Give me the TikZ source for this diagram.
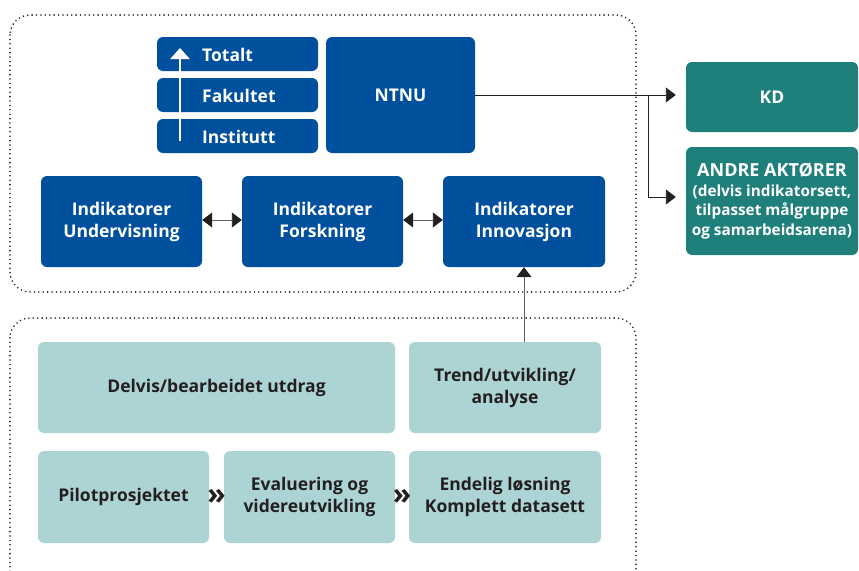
\documentclass[tikz,border=0pt]{standalone}
\usepackage{fontspec}
\setmainfont{Open Sans}
\usetikzlibrary{arrows.meta,calc}
\definecolor{ntnublue}{HTML}{00509E}
\definecolor{darkteal}{HTML}{1F807B}
\definecolor{lightteal}{HTML}{ADD4D4}
\definecolor{txt}{HTML}{231F20}
\definecolor{dotc}{HTML}{231F20}
\begin{document}
\begin{tikzpicture}[x=1pt,y=-1pt,
  bluebox/.style={fill=ntnublue, rounded corners=6pt, text=white, font=\bfseries\fontsize{17.5}{22}\selectfont, align=center, inner sep=0pt},
  tealbox/.style={fill=darkteal, rounded corners=6pt, text=white, font=\bfseries\fontsize{17.5}{22}\selectfont, align=center, inner sep=0pt},
  lightbox/.style={fill=lightteal, rounded corners=6pt, text=txt, font=\bfseries\fontsize{17.5}{22}\selectfont, align=center, inner sep=0pt},
  lvltext/.style={anchor=west, text=white, font=\bfseries\fontsize{17.5}{22}\selectfont, inner sep=0pt},
  dotframe/.style={draw=dotc, line width=1.8pt, dash pattern=on 0pt off 4.4pt, line cap=round, rounded corners=20pt},
  conn/.style={draw=txt, line width=0.9pt, -{Triangle[length=10pt,width=15pt]}},
  dconn/.style={draw=txt!70, line width=0.9pt, {Triangle[length=10pt,width=15pt,color=txt]}-{Triangle[length=10pt,width=15pt,color=txt]}},
  chev/.style={text=txt, font=\bfseries\fontsize{30}{30}\selectfont, inner sep=0pt}
]
\clip (0,0) rectangle (859,570);
% dotted frames
\draw[dotframe] (10,15) rectangle (636,292);
\draw[dotframe] (10,318) rectangle (636,600);
% level boxes
\node[bluebox, minimum width=161pt, minimum height=34pt] (tot) at (237.5,54) {};
\node[bluebox, minimum width=161pt, minimum height=34pt] (fak) at (237.5,95) {};
\node[bluebox, minimum width=161pt, minimum height=34pt] (inst) at (237.5,136) {};
\node[lvltext] (tott) at (202,55) {Totalt};
\node[lvltext] (fakt) at (202,96) {Fakultet};
\node[lvltext] (instt) at (202,137) {Institutt};
\coordinate (wa1) at (180,141);
\coordinate (wa2) at (180,48);
\draw[white, line width=2.2pt, -{Triangle[length=11pt,width=19pt]}] (wa1) -- (wa2);
\node[bluebox, minimum width=149pt, minimum height=116pt] (ntnu) at (400.5,95) {NTNU};
% indicator boxes
\node[bluebox, minimum width=161pt, minimum height=91pt] (und) at (121.5,221.5) {Indikatorer\\Undervisning};
\node[bluebox, minimum width=161pt, minimum height=91pt] (fors) at (322.5,221.5) {Indikatorer\\Forskning};
\node[bluebox, minimum width=162pt, minimum height=91pt] (inno) at (524,221.5) {Indikatorer\\Innovasjon};
\draw[dconn] (und.east |- 0,220) -- (fors.west |- 0,220);
\draw[dconn] (fors.east |- 0,220) -- (inno.west |- 0,220);
% right boxes
\node[tealbox, minimum width=172pt, minimum height=70pt] (kd) at (772,97) {KD};
\node[tealbox, minimum width=172pt, minimum height=108pt] (andre) at (772,201) {{\fontsize{18}{22}\selectfont ANDRE AKTØRER}\\[-2pt]{\fontsize{15.3}{19.5}\selectfont (delvis indikatorsett,}\\[-2.5pt]{\fontsize{15.3}{19.5}\selectfont tilpasset målgruppe}\\[-2.5pt]{\fontsize{15.3}{19.5}\selectfont og samarbeidsarena)}};
\coordinate (br) at (648,95);
\coordinate (br2) at (648,197);
\draw[conn, shorten >=10pt] (ntnu.east |- br) -- (kd.west |- br);
\draw[conn, shorten >=10pt] (br) -- (br2) -- (andre.west |- br2);
% lower boxes
\node[lightbox, minimum width=357pt, minimum height=91pt] (delv) at (216.5,387.5) {Delvis/bearbeidet utdrag};
\node[lightbox, minimum width=192pt, minimum height=91pt] (trend) at (505,387.5) {Trend/utvikling/\\analyse};
\node[lightbox, minimum width=171pt, minimum height=92pt] (pilot) at (123.5,497) {Pilotprosjektet};
\node[lightbox, minimum width=171pt, minimum height=92pt] (eval) at (309.5,497) {Evaluering og\\videreutvikling};
\node[lightbox, minimum width=192pt, minimum height=92pt] (endl) at (505,497) {Endelig løsning\\Komplett datasett};
\node[chev] (ch1) at (216.5,497) {»};
\node[chev] (ch2) at (402,497) {»};
\draw[draw=txt!70, line width=0.9pt, -{Triangle[length=10pt,width=15pt,color=txt]}] (inno.south |- trend.north) -- (inno.south);
\end{tikzpicture}
\end{document}
